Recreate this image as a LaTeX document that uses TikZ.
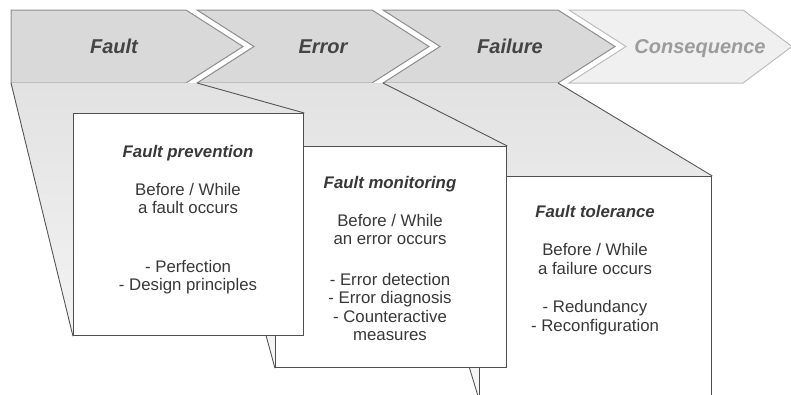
\documentclass[tikz,border=0pt]{standalone}
\usepackage{fontspec}
\setmainfont{Liberation Sans}
\definecolor{chevfill}{HTML}{D9D9D9}
\definecolor{chevline}{HTML}{8E8E8E}
\definecolor{chevtext}{HTML}{444444}
\definecolor{consfill}{HTML}{F0F0F0}
\definecolor{consline}{HTML}{BDBDBD}
\definecolor{constext}{HTML}{9C9C9C}
\definecolor{boxline}{HTML}{4F4F4F}
\definecolor{funlinec}{HTML}{555555}
\definecolor{bodytext}{HTML}{383838}
\definecolor{funtop}{HTML}{E2E2E2}
\definecolor{funmid}{HTML}{EBEBEB}
\definecolor{funbot}{HTML}{F7F7F7}
\newcommand{\bxtitle}{\bfseries\itshape}
\begin{document}
\begin{tikzpicture}[x=1pt,y=-1pt,
  chev/.style={fill=chevfill, draw=chevline, line width=1pt, line join=miter},
  conschev/.style={fill=consfill, draw=consline, line width=1pt},
  chevtxt/.style={font=\fontsize{20}{24}\selectfont\bfseries\itshape, text=chevtext, anchor=base, inner sep=0pt},
  boxnode/.style={draw=boxline, line width=1.3pt, fill=white, anchor=north west, inner sep=0pt},
  funline/.style={draw=funlinec, line width=0.9pt},
  funshade/.style={top color=funtop, middle color=funmid, bottom color=funbot, draw=none},
  boxtxt/.style={font=\fontsize{16.8}{18.5}\selectfont, text=bodytext, align=center, inner sep=0pt, anchor=north}
]
\useasboundingbox (0,0) rectangle (791,394);
\clip (0,0) rectangle (791,394);

% chevron corners
\coordinate (fa-tl) at (11,10);   \coordinate (fa-bl) at (11,83);
\coordinate (fa-tr) at (186,10);  \coordinate (fa-br) at (186,83);  \coordinate (fa-tip) at (243,46.5);
\coordinate (er-tl) at (197,10);  \coordinate (er-bl) at (197,83);  \coordinate (er-n) at (254,46.5);
\coordinate (er-tr) at (372,10);  \coordinate (er-br) at (372,83);  \coordinate (er-tip) at (429,46.5);
\coordinate (fl-tl) at (383,10);  \coordinate (fl-bl) at (383,83);  \coordinate (fl-n) at (440,46.5);
\coordinate (fl-tr) at (558,10);  \coordinate (fl-br) at (558,83);  \coordinate (fl-tip) at (615,46.5);
\coordinate (co-tl) at (569,10);  \coordinate (co-bl) at (569,83);  \coordinate (co-n) at (626,46.5);
\coordinate (co-tr) at (743,10);  \coordinate (co-br) at (743,83);  \coordinate (co-tip) at (792,46.5);

% box corners
\coordinate (prevNW) at (73,113);
\coordinate (monNW) at (275,146);
\coordinate (tolNW) at (479,176);

% chevrons
\draw[chev] (fa-tl) -- (fa-tr) -- (fa-tip) -- (fa-br) -- (fa-bl) -- cycle;
\draw[chev] (er-tl) -- (er-tr) -- (er-tip) -- (er-br) -- (er-bl) -- (er-n) -- cycle;
\draw[chev] (fl-tl) -- (fl-tr) -- (fl-tip) -- (fl-br) -- (fl-bl) -- (fl-n) -- cycle;
\draw[conschev] (co-tl) -- (co-tr) -- (co-tip) -- (co-br) -- (co-bl) -- (co-n) -- cycle;

\node[chevtxt] (tFault) at (114,53) {Fault};
\node[chevtxt] (tError) at (323,53) {Error};
\node[chevtxt] (tFailure) at (510,53) {Failure};
\node[chevtxt, text=constext] (tCons) at (700,53) {Consequence};

% failure funnel and fault tolerance box
\begin{scope}
  \clip (fl-bl) -- (fl-br) -- (711,176) -- (479,396) -- cycle;
  \shade[funshade] (0,83) rectangle (791,396);
\end{scope}
\node[boxnode, minimum width=232pt, minimum height=222pt] (tol) at (tolNW) {};
\draw[funline] (fl-bl) -- (tol.south west);
\draw[funline] (fl-br) -- (tol.north east);

% error funnel and fault monitoring box
\begin{scope}
  \clip (er-bl) -- (fl-bl) -- (506,146) -- (275,367) -- cycle;
  \shade[funshade] (0,83) rectangle (791,396);
\end{scope}
\node[boxnode, minimum width=231pt, minimum height=221pt] (mon) at (monNW) {};
\draw[funline] (er-bl) -- (mon.south west);
\draw[funline] (fl-bl) -- (mon.north east);

% fault funnel and fault prevention box
\begin{scope}
  \clip (fa-bl) -- (er-bl) -- (303,113) -- (73,335) -- cycle;
  \shade[funshade] (0,83) rectangle (791,396);
\end{scope}
\node[boxnode, minimum width=230pt, minimum height=222pt] (prev) at (prevNW) {};
\draw[funline] (fa-bl) -- (prev.south west);
\draw[funline] (er-bl) -- (prev.north east);

% box texts
\node[boxtxt] (prevtxt) at (188,145) {{\bxtitle Fault prevention}\\[19.5pt]
  Before / While\\a fault occurs\\[40pt]- Perfection\\- Design principles};
\node[boxtxt] (montxt) at (390,176) {{\bxtitle Fault monitoring}\\[19.5pt]
  Before / While\\an error occurs\\[22pt]- Error detection\\- Error diagnosis\\- Counteractive\\measures};
\node[boxtxt] (toltxt) at (595,205) {{\bxtitle Fault tolerance}\\[20pt]
  Before / While\\a failure occurs\\[20pt]- Redundancy\\- Reconfiguration};
\end{tikzpicture}
\end{document}
